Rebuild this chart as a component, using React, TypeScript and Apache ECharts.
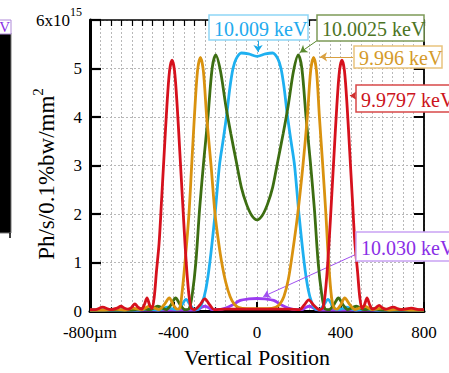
import React, { useEffect, useRef } from 'react';
import * as echarts from 'echarts';

const FONT = '"Liberation Serif", "Times New Roman", Times, serif';

// Axis ranges
const X_MIN = -800;
const X_MAX = 800;
const X_MAJOR = 400;
const X_GRID = 50;
const Y_MIN = 0;
const Y_MAX = 6;
const Y_STEP = 1;

// Series names
const NAMES = ['10.030 keV', '10.009 keV', '10.0025 keV', '9.996 keV', '9.9797 keV'];
const COLORS = ['#9b3cf0', '#1eb0f0', '#3d6e12', '#d9920f', '#d6111d'];

// 10.030 keV (purple)
const PURPLE_X = [-800, -400, -320, -285, -268, -250, -232, -215, -180, -150, -120, -80, -40, 0, 40, 80, 120, 150, 180, 215, 232, 250, 268, 285, 320, 400, 800];
const PURPLE_Y = [0.02, 0.02, 0.02, 0.03, 0.07, 0.1, 0.07, 0.03, 0.03, 0.06, 0.12, 0.22, 0.25, 0.26, 0.25, 0.22, 0.12, 0.06, 0.03, 0.03, 0.07, 0.1, 0.07, 0.03, 0.02, 0.02, 0.02];

// 10.009 keV (blue)
const BLUE_X = [-800, -570, -520, -475, -450, -430, -410, -380, -360, -340, -320, -300, -280, -262, -245, -226, -201, -180, -163, -145, -130, -115, -100, -75, -40, 0, 40, 75, 100, 115, 130, 145, 163, 180, 201, 226, 245, 262, 280, 300, 320, 340, 360, 380, 410, 430, 450, 475, 520, 570, 800];
const BLUE_Y = [0.02, 0.02, 0.04, 0.02, 0.05, 0.08, 0.05, 0.03, 0.13, 0.24, 0.13, 0.03, 0.04, 0.18, 0.45, 1.0, 2.0, 3.0, 3.5, 4.05, 4.6, 5.0, 5.2, 5.32, 5.3, 5.25, 5.3, 5.32, 5.2, 5.0, 4.6, 4.05, 3.5, 3.0, 2.0, 1.0, 0.45, 0.18, 0.04, 0.03, 0.13, 0.24, 0.13, 0.03, 0.05, 0.08, 0.05, 0.02, 0.04, 0.02, 0.02];

// 10.0025 keV (green)
const GREEN_X = [-800, -600, -555, -515, -475, -435, -412, -390, -368, -345, -325, -310, -293, -275, -255, -235, -215, -198, -175, -150, -125, -100, -75, -50, -25, 0, 25, 50, 75, 100, 125, 150, 175, 198, 215, 235, 255, 275, 293, 310, 325, 345, 368, 390, 412, 435, 475, 515, 555, 600, 800];
const GREEN_Y = [0.02, 0.02, 0.05, 0.03, 0.1, 0.03, 0.13, 0.27, 0.13, 0.03, 0.05, 0.35, 1.0, 2.1, 3.1, 4.0, 5.0, 5.28, 4.95, 4.25, 3.65, 3.1, 2.55, 2.2, 1.97, 1.88, 1.97, 2.2, 2.55, 3.1, 3.65, 4.25, 4.95, 5.28, 5.0, 4.0, 3.1, 2.1, 1.0, 0.35, 0.05, 0.03, 0.13, 0.27, 0.13, 0.03, 0.1, 0.03, 0.05, 0.02, 0.02];

// 9.996 keV (orange)
const ORANGE_X = [-800, -730, -680, -635, -595, -555, -515, -470, -445, -420, -400, -382, -370, -361, -345, -326, -313, -300, -285, -271, -257, -241, -220, -201, -185, -169, -150, -129, -110, -90, -50, 0, 50, 90, 110, 129, 150, 170, 195, 220, 241, 257, 271, 285, 299, 315, 330, 343, 358, 370, 382, 400, 420, 445, 470, 515, 555, 595, 635, 680, 730, 800];
const ORANGE_Y = [0.02, 0.02, 0.04, 0.02, 0.06, 0.03, 0.1, 0.03, 0.13, 0.27, 0.12, 0.04, 0.06, 0.3, 1.0, 2.0, 3.0, 4.0, 4.95, 5.23, 4.95, 4.0, 3.0, 2.0, 1.45, 1.0, 0.6, 0.3, 0.15, 0.08, 0.05, 0.05, 0.05, 0.08, 0.15, 0.3, 0.65, 1.2, 2.0, 3.0, 4.0, 4.95, 5.23, 4.95, 4.0, 3.0, 2.0, 1.0, 0.25, 0.06, 0.04, 0.12, 0.27, 0.13, 0.03, 0.1, 0.03, 0.06, 0.02, 0.04, 0.02, 0.02];

// 9.9797 keV (red)
const RED_X = [-800, -775, -740, -700, -670, -652, -634, -615, -600, -585, -570, -553, -540, -527, -514, -503, -492, -482, -469, -457, -444, -432, -419, -407, -395, -382, -370, -357, -345, -332, -317, -300, -275, -250, -225, -205, -150, -75, 0, 75, 150, 205, 225, 248, 272, 300, 317, 332, 345, 357, 370, 382, 395, 407, 419, 432, 444, 457, 469, 482, 492, 503, 514, 527, 540, 553, 570, 585, 600, 615, 652, 690, 740, 775, 800];
const RED_Y = [0.03, 0.03, 0.08, 0.03, 0.06, 0.1, 0.06, 0.04, 0.08, 0.15, 0.08, 0.04, 0.13, 0.27, 0.12, 0.05, 0.3, 0.8, 1.4, 2.3, 3.3, 4.2, 4.95, 5.17, 4.95, 4.2, 3.3, 2.3, 1.4, 0.6, 0.08, 0.03, 0.12, 0.25, 0.12, 0.03, 0.04, 0.04, 0.04, 0.04, 0.04, 0.03, 0.12, 0.23, 0.12, 0.03, 0.08, 0.6, 1.4, 2.3, 3.3, 4.2, 4.95, 5.17, 4.95, 4.2, 3.3, 2.3, 1.4, 0.8, 0.3, 0.05, 0.12, 0.27, 0.13, 0.04, 0.07, 0.12, 0.07, 0.04, 0.08, 0.03, 0.06, 0.03, 0.03];

const SERIES_X = [PURPLE_X, BLUE_X, GREEN_X, ORANGE_X, RED_X];
const SERIES_Y = [PURPLE_Y, BLUE_Y, GREEN_Y, ORANGE_Y, RED_Y];

// Annotation arrows (data coordinates: [from], [to])
const ARROW_FROM = [[474, 1.17], [5, 5.58], [286, 5.57], [460, 5.24], [470, 4.44]];
const ARROW_TO = [[30, 0.3], [5, 5.34], [206, 5.33], [302, 5.24], [445, 4.44]];
const ARROW_COLORS = ['#a050f0', '#1aaae8', '#5a8a30', '#d9a040', '#d03030'];

// Annotation label boxes (text, colours)
const LABEL_TEXTS = ['10.030 keV', '10.009 keV', '10.0025 keV', '9.996 keV', '9.9797 keV'];
const LABEL_TEXT_COLORS = ['#8a2fe6', '#22aaee', '#4c7424', '#d49a2a', '#cc1420'];
const LABEL_BORDER_COLORS = ['#c9a2f4', '#8fd6f6', '#7d9a58', '#e9c47e', '#d84848'];

export default function App() {
  const ref = useRef<HTMLDivElement>(null);

  useEffect(() => {
    if (!ref.current) return;
    const chart = echarts.init(ref.current, null, { renderer: 'svg' });

    const series: any[] = NAMES.map((name, i) => ({
      name,
      type: 'line',
      xAxisIndex: 0,
      yAxisIndex: 0,
      data: SERIES_X[i].map((x, j) => [x, SERIES_Y[i][j]]),
      showSymbol: false,
      symbol: 'none',
      smooth: 0.3,
      clip: true,
      z: 3 + i,
      lineStyle: { color: COLORS[i], width: 2.8 },
      itemStyle: { color: COLORS[i] },
      markLine: {
        silent: true,
        animation: false,
        symbol: ['none', 'arrow'],
        symbolSize: 7,
        label: { show: false },
        lineStyle: { color: ARROW_COLORS[i], width: 1, type: 'solid' },
        data: [[{ coord: ARROW_FROM[i] }, { coord: ARROW_TO[i] }]],
      },
    }));

    // label boxes geometry (pixels): [x, y, w, h]
    const boxes = [
      [356, 232, 104, 29],
      [209, 15, 99, 25],
      [317, 15, 107, 26],
      [354, 46, 88, 22],
      [356, 85, 104, 27],
    ];

    const graphics: any[] = [];
    boxes.forEach((b, i) => {
      graphics.push({
        type: 'rect',
        z: 100,
        shape: { x: b[0], y: b[1], width: b[2], height: b[3] },
        style: { fill: '#ffffff', stroke: LABEL_BORDER_COLORS[i], lineWidth: 1.5 },
      });
      graphics.push({
        type: 'text',
        z: 101,
        x: b[0] + 5,
        y: b[1] + b[3] / 2 + 1,
        style: {
          text: LABEL_TEXTS[i],
          fill: LABEL_TEXT_COLORS[i],
          font: `20px ${FONT}`,
          align: 'left',
          verticalAlign: 'middle',
        },
      });
    });

    // cropped neighbouring panel at left edge
    graphics.push({
      type: 'rect', z: 100,
      shape: { x: -2, y: 33, width: 13, height: 200 },
      style: { fill: '#000', stroke: '#777', lineWidth: 1 },
    });
    graphics.push({
      type: 'rect', z: 100,
      shape: { x: -2, y: 20, width: 13, height: 14 },
      style: { fill: '#fff', stroke: '#b08ad8', lineWidth: 1 },
    });
    graphics.push({
      type: 'text', z: 101, x: 10, y: 27,
      style: { text: 'V', fill: '#8a2fe6', font: `15px ${FONT}`, align: 'right', verticalAlign: 'middle' },
    });
    graphics.push({
      type: 'line', z: 100,
      shape: { x1: 10, y1: 233, x2: 10, y2: 238 },
      style: { stroke: '#000', lineWidth: 1.5 },
    });

    // y-axis title
    graphics.push({
      type: 'text', z: 50, x: 46, y: 174, rotation: Math.PI / 2,
      style: {
        text: '{a|Ph/s/0.1%bw/mm}{b|2}',
        align: 'center',
        verticalAlign: 'middle',
        rich: {
          a: { fontSize: 23, lineHeight: 32, fontFamily: FONT, fill: '#000' },
          b: { fontSize: 15, lineHeight: 15, fontFamily: FONT, fill: '#000', verticalAlign: 'top' },
        },
      },
    });

    const option: any = {
      animation: false,
      backgroundColor: '#ffffff',
      textStyle: { fontFamily: FONT },
      grid: { left: 90, right: 25, top: 20, bottom: 53, containLabel: false },
      xAxis: [
        {
          type: 'value', min: X_MIN, max: X_MAX, interval: X_MAJOR, position: 'bottom',
          axisLine: { show: true, onZero: false, lineStyle: { color: '#000', width: 3 } },
          axisTick: { show: true, inside: true, length: 9, lineStyle: { color: '#000', width: 2 } },
          minorTick: { show: true, splitNumber: 4, length: 4, lineStyle: { color: '#000', width: 1.2 } },
          axisLabel: {
            show: true, margin: 13, fontSize: 17, color: '#000', fontFamily: FONT,
            formatter: (v: number) => (v === X_MIN ? '-800µm' : String(v)),
          },
          splitLine: { show: false },
          name: 'Vertical Position', nameLocation: 'middle', nameGap: 33,
          nameTextStyle: { fontSize: 22, color: '#000', fontFamily: FONT },
        },
        {
          type: 'value', min: X_MIN, max: X_MAX, interval: X_GRID, position: 'top',
          axisLine: { show: true, onZero: false, lineStyle: { color: '#000', width: 1.5 } },
          axisTick: { show: true, inside: true, length: 6, lineStyle: { color: '#000', width: 1.2 } },
          axisLabel: { show: false },
          splitLine: { show: true, lineStyle: { color: '#b8b8b8', type: [2, 2], width: 1 } },
        },
      ],
      yAxis: [
        {
          type: 'value', min: Y_MIN, max: Y_MAX, interval: Y_STEP, position: 'left',
          axisLine: { show: true, onZero: false, lineStyle: { color: '#000', width: 3 } },
          axisTick: { show: true, inside: true, length: 11, lineStyle: { color: '#000', width: 2.2 } },
          axisLabel: {
            show: true, margin: 8, fontSize: 17, color: '#000', fontFamily: FONT,
            formatter: (v: number) => (v === Y_MAX ? '{a|6x10}{b|15}' : String(v)),
            rich: {
              a: { fontSize: 17, lineHeight: 28, fontFamily: FONT, color: '#000' },
              b: { fontSize: 12, lineHeight: 12, fontFamily: FONT, color: '#000', verticalAlign: 'top' },
            },
          },
          splitLine: { show: true, lineStyle: { color: '#b8b8b8', type: [2, 2], width: 1 } },
        },
        {
          type: 'value', min: Y_MIN, max: Y_MAX, interval: Y_STEP, position: 'right',
          axisLine: { show: true, onZero: false, lineStyle: { color: '#000', width: 1.8 } },
          axisTick: { show: true, inside: true, length: 10, lineStyle: { color: '#000', width: 2 } },
          axisLabel: { show: false },
          splitLine: { show: false },
        },
      ],
      series,
      graphic: graphics,
    };

    chart.setOption(option);
    return () => chart.dispose();
  }, []);

  return (
    <div
      ref={ref}
      style={{ position: 'fixed', left: 0, top: 0, width: 449, height: 373, background: '#fff' }}
    />
  );
}
